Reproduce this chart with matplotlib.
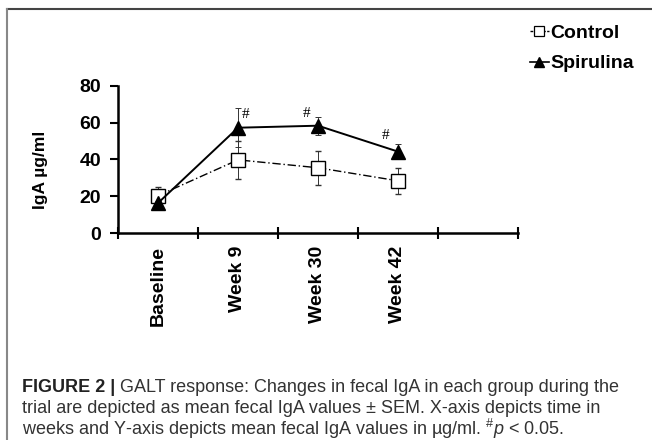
import matplotlib
matplotlib.use('Agg')
import matplotlib.pyplot as plt
from matplotlib.lines import Line2D

plt.rcParams['font.family'] = ['Liberation Sans', 'DejaVu Sans']
plt.rcParams['mathtext.fontset'] = 'custom'
plt.rcParams['mathtext.rm'] = 'Liberation Sans'
plt.rcParams['mathtext.it'] = 'Liberation Sans:italic'

# datos
categorias = ['Baseline', 'Week 9', 'Week 30', 'Week 42']
control = [20.3, 39.8, 35.5, 28.4]
control_sem = [5.0, 10.2, 9.2, 7.2]
spirulina = [16.3, 57.3, 58.4, 44.3]
spirulina_sem = [1.2, 10.6, 5.0, 4.1]
marcas_sig = ['', '#', '#', '#']

fig = plt.figure(figsize=(6.52, 4.40), dpi=100)
ax = fig.add_axes([118 / 652, 1 - 233 / 440, 400 / 652, 147 / 440])

x = [i + 0.5 for i in range(len(categorias))]
estilo_control = (0, (6, 2, 1, 2))

ax.errorbar(x, control, yerr=control_sem, color='black', ls=estilo_control, lw=1.0,
            marker='s', ms=10, mfc='white', mec='black', mew=1.0,
            ecolor='#333333', elinewidth=0.7, capsize=2, capthick=0.7, zorder=3)
ax.errorbar(x, spirulina, yerr=spirulina_sem, color='black', ls='-', lw=1.4,
            marker='^', ms=10, mfc='black', mec='black',
            ecolor='#333333', elinewidth=0.7, capsize=2, capthick=0.7, zorder=4)

# marcas de significancia
desplaz_x = [0, 0.1, -0.14, -0.16]
desplaz_y = [0, 7.0, 6.5, 9.0]
for i, m in enumerate(marcas_sig):
    if m:
        ax.text(x[i] + desplaz_x[i], spirulina[i] + desplaz_y[i], m,
                family=['Liberation Serif', 'DejaVu Serif'], fontsize=11,
                ha='center', va='center')

ax.set_xlim(0, 5)
ax.set_ylim(0, 80)
ax.set_yticks([0, 20, 40, 60, 80])
ax.set_xticks(range(6))
ax.set_xticklabels([])
ax.set_xticks(x, minor=True)
ax.set_xticklabels(categorias, minor=True, rotation=90, fontsize=14, fontweight='bold', va='top')
ax.tick_params(axis='x', which='minor', length=0, pad=9)
ax.tick_params(axis='x', which='major', direction='inout', length=8, width=1.5)
ax.tick_params(axis='y', direction='out', length=6, width=1.5, pad=6)
for lab in ax.get_yticklabels():
    lab.set_fontsize(14)
    lab.set_fontweight('bold')
for s in ['top', 'right']:
    ax.spines[s].set_visible(False)
for s in ['left', 'bottom']:
    ax.spines[s].set_linewidth(1.8)
ax.set_ylabel('IgA µg/ml', fontsize=12.5, fontweight='bold')
ax.yaxis.set_label_coords(-0.175, 0.43)

manejadores = [
    Line2D([], [], color='black', ls=(0, (2, 1)), lw=1.0, marker='s', ms=7, mfc='white', mec='black', mew=0.9),
    Line2D([], [], color='black', ls='-', lw=1.2, marker='^', ms=7, mfc='black', mec='black'),
]
fig.legend(manejadores, ['Control', 'Spirulina'], loc='upper left',
           bbox_to_anchor=(512 / 652, 1 - 7 / 440), frameon=False,
           handlelength=1.0, handletextpad=0.05, labelspacing=0.65,
           prop={'weight': 'bold', 'size': 14})

# marco de la figura
fig.add_artist(Line2D([7 / 652, 1], [1 - 9 / 440, 1 - 9 / 440], color='#444444', lw=1.5))
fig.add_artist(Line2D([7 / 652, 7 / 652], [0, 1 - 9 / 440], color='#888888', lw=1.5))

# pie de figura
col = '#333333'
tam = 13
t1 = fig.text(22 / 652, 1 - 387 / 440, 'FIGURE 2 | ', fontsize=tam, fontweight='bold', color='#222222', va='center')
fig.canvas.draw()
bb = t1.get_window_extent()
fig.text(bb.x1 / 652, 1 - 387 / 440, 'GALT response: Changes in fecal IgA in each group during the',
         fontsize=tam, color=col, va='center')
fig.text(22 / 652, 1 - 408 / 440, 'trial are depicted as mean fecal IgA values ± SEM. X-axis depicts time in',
         fontsize=tam, color=col, va='center')
fig.text(22 / 652, 1 - 429 / 440, r'weeks and Y-axis depicts mean fecal IgA values in µg/ml. $^{\#}p$ < 0.05.',
         fontsize=tam, color=col, va='center')

fig.savefig('out.png', dpi=100)
